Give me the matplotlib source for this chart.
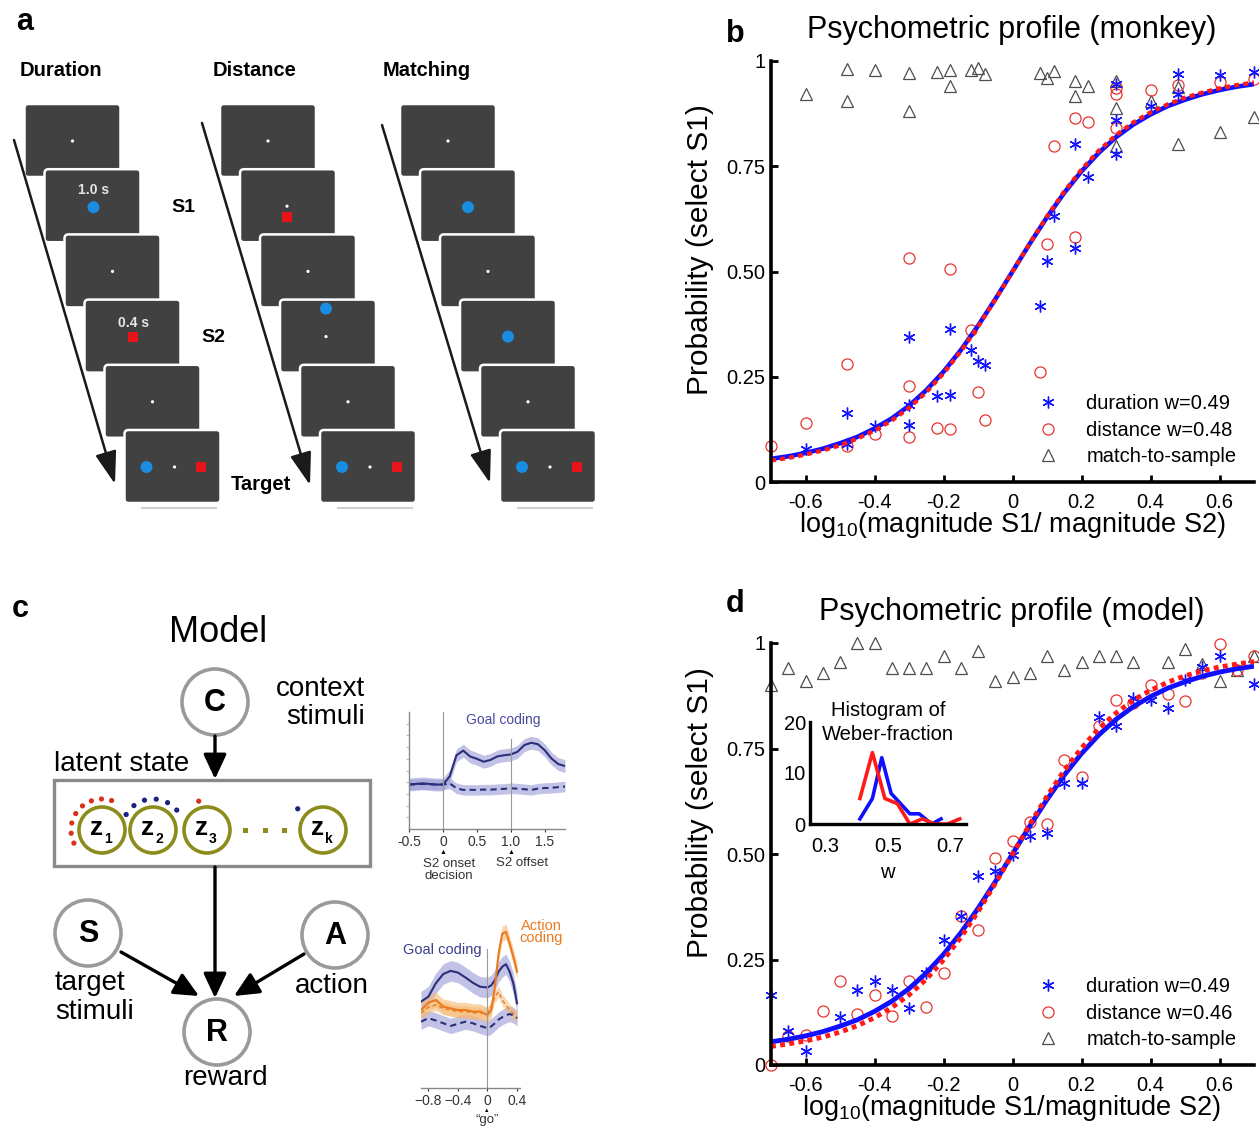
import matplotlib
matplotlib.use("Agg")
import matplotlib.pyplot as plt
from matplotlib.patches import FancyBboxPatch, Circle, Rectangle
from matplotlib.lines import Line2D
import numpy as np

plt.rcParams['font.family'] = ['Liberation Sans', 'DejaVu Sans']
plt.rcParams['mathtext.fontset'] = 'custom'
plt.rcParams['mathtext.rm'] = 'Liberation Sans'
plt.rcParams['mathtext.it'] = 'Liberation Sans:italic'
plt.rcParams['mathtext.bf'] = 'Liberation Sans:bold'

W, H = 1259, 1133

# -----------------------------
# DATA: panel b (monkey)
# -----------------------------
b_dur_x = [0.30, 0.30, 0.30, 0.48, 0.48, 0.40, 0.60, 0.70, 0.18, 0.22, 0.12, 0.18, 0.10, 0.08,
           -0.18, -0.30, -0.12, -0.10, -0.08, -0.22, -0.18, -0.30, -0.30, -0.48, -0.40, -0.48, -0.60]
b_dur_y = [0.946, 0.859, 0.779, 0.970, 0.921, 0.894, 0.966, 0.974, 0.802, 0.724, 0.631, 0.556, 0.524, 0.417,
           0.363, 0.345, 0.313, 0.288, 0.278, 0.204, 0.206, 0.183, 0.135, 0.163, 0.133, 0.090, 0.079]

b_dist_x = [0.30, 0.30, 0.40, 0.48, 0.60, 0.70, 0.18, 0.22, 0.30, 0.12, 0.18, 0.10, -0.30, -0.18,
            -0.12, 0.08, -0.48, -0.30, -0.10, -0.08, -0.60, -0.22, -0.18, -0.40, -0.30, -0.48, -0.70]
b_dist_y = [0.936, 0.921, 0.932, 0.944, 0.950, 0.958, 0.865, 0.855, 0.841, 0.797, 0.582, 0.565, 0.533, 0.505,
            0.361, 0.262, 0.280, 0.228, 0.214, 0.147, 0.141, 0.129, 0.125, 0.113, 0.107, 0.086, 0.086]

b_match_x = [-0.60, -0.48, -0.48, -0.40, -0.30, -0.30, -0.22, -0.18, -0.18, -0.12, -0.10, -0.08, 0.08,
             0.10, 0.12, 0.18, 0.18, 0.22, 0.30, 0.30, 0.30, 0.40, 0.48, 0.48, 0.60, 0.70]
b_match_y = [0.922, 0.982, 0.906, 0.979, 0.972, 0.881, 0.974, 0.978, 0.940, 0.979, 0.984, 0.970, 0.971,
             0.960, 0.976, 0.952, 0.918, 0.940, 0.952, 0.888, 0.797, 0.906, 0.938, 0.803, 0.831, 0.868]

# fitted psychometric curves
fit_x = [-0.70, -0.65, -0.60, -0.55, -0.50, -0.45, -0.40, -0.35, -0.30, -0.25, -0.20, -0.15, -0.10, -0.05, 0.0,
         0.05, 0.10, 0.15, 0.20, 0.25, 0.30, 0.35, 0.40, 0.45, 0.50, 0.55, 0.60, 0.65, 0.70]
fit_w049 = [0.055, 0.061, 0.069, 0.079, 0.092, 0.107, 0.127, 0.151, 0.181, 0.218, 0.262, 0.313, 0.371, 0.434, 0.5,
            0.566, 0.629, 0.687, 0.738, 0.782, 0.819, 0.849, 0.873, 0.893, 0.908, 0.921, 0.931, 0.939, 0.945]
fit_w048 = [0.051, 0.057, 0.065, 0.075, 0.087, 0.103, 0.122, 0.146, 0.176, 0.213, 0.258, 0.310, 0.369, 0.433, 0.5,
            0.567, 0.631, 0.690, 0.742, 0.787, 0.824, 0.854, 0.878, 0.897, 0.913, 0.925, 0.935, 0.943, 0.949]
fit_w046 = [0.044, 0.050, 0.057, 0.066, 0.078, 0.093, 0.112, 0.136, 0.166, 0.203, 0.249, 0.302, 0.363, 0.430, 0.5,
            0.570, 0.637, 0.698, 0.751, 0.797, 0.834, 0.864, 0.888, 0.907, 0.922, 0.934, 0.943, 0.950, 0.956]

# -----------------------------
# DATA: panel d (model)
# -----------------------------
d_dur_x = [0.60, 0.70, 0.55, 0.50, 0.45, 0.40, 0.35, 0.25, 0.30, 0.15, 0.20, 0.10, 0.05, 0.0,
           -0.05, -0.10, -0.15, -0.20, -0.25, -0.30, -0.35, -0.40, -0.45, -0.50, -0.65, -0.60, -0.70]
d_dur_y = [0.969, 0.902, 0.943, 0.912, 0.847, 0.866, 0.869, 0.825, 0.803, 0.668, 0.668, 0.550, 0.542, 0.498,
           0.460, 0.449, 0.352, 0.296, 0.218, 0.135, 0.178, 0.199, 0.178, 0.113, 0.081, 0.033, 0.165]

d_dist_x = [0.60, 0.70, 0.65, 0.55, 0.50, 0.45, 0.40, 0.35, 0.30, 0.25, 0.15, 0.20, 0.10, 0.05, 0.0,
            -0.05, -0.15, -0.10, -0.20, -0.25, -0.30, -0.35, -0.40, -0.45, -0.50, -0.55, -0.60, -0.65, -0.70]
d_dist_y = [0.998, 0.969, 0.935, 0.928, 0.863, 0.880, 0.900, 0.857, 0.866, 0.803, 0.723, 0.683, 0.572, 0.576, 0.530,
            0.491, 0.352, 0.320, 0.217, 0.137, 0.199, 0.117, 0.165, 0.121, 0.199, 0.129, 0.072, 0.069, 0.0]

d_match_x = [-0.70, -0.65, -0.60, -0.55, -0.50, -0.45, -0.40, -0.35, -0.30, -0.25, -0.20, -0.15, -0.10, -0.05,
             0.0, 0.05, 0.10, 0.15, 0.20, 0.25, 0.30, 0.35, 0.45, 0.50, 0.55, 0.60, 0.65, 0.70]
d_match_y = [0.90, 0.94, 0.91, 0.93, 0.955, 1.0, 1.0, 0.94, 0.94, 0.94, 0.97, 0.94, 0.98, 0.91,
             0.92, 0.93, 0.97, 0.935, 0.955, 0.97, 0.97, 0.955, 0.955, 0.985, 0.95, 0.91, 0.935, 0.97]

# inset: histogram of Weber fraction
hist_red_x = [0.41, 0.45, 0.49, 0.53, 0.57, 0.61, 0.65, 0.69, 0.73]
hist_red_y = [5, 14, 5, 4, 0, 1, 0, 0, 1]
hist_blue_x = [0.41, 0.45, 0.48, 0.51, 0.54, 0.57, 0.60, 0.64, 0.67]
hist_blue_y = [1, 5, 13, 6, 4, 2, 2, 0, 1]

xtick_vals = [-0.6, -0.4, -0.2, 0, 0.2, 0.4, 0.6]
xtick_labels = ["-0.6", "-0.4", "-0.2", "0", "0.2", "0.4", "0.6"]
ytick_vals = [0, 0.25, 0.5, 0.75, 1]
ytick_labels = ["0", "0.25", "0.50", "0.75", "1"]

# -----------------------------
# DATA: panel c small neural traces
# -----------------------------
gc1_x = [-0.5, -0.3, -0.1, 0.0, 0.1, 0.2, 0.3, 0.4, 0.5, 0.6, 0.7, 0.8, 0.9, 1.0, 1.1, 1.2, 1.3, 1.4, 1.5, 1.6, 1.7, 1.8]
gc1_solid = [0.38, 0.39, 0.38, 0.38, 0.45, 0.63, 0.67, 0.62, 0.60, 0.575, 0.59, 0.62, 0.63, 0.637, 0.66, 0.717,
             0.737, 0.725, 0.674, 0.603, 0.555, 0.538]
gc1_dash = [0.38, 0.385, 0.38, 0.38, 0.39, 0.348, 0.334, 0.335, 0.334, 0.337, 0.336, 0.34, 0.343, 0.348, 0.345,
            0.34, 0.334, 0.345, 0.35, 0.352, 0.358, 0.363]

gc2_x = [-0.9, -0.8, -0.7, -0.6, -0.5, -0.4, -0.3, -0.2, -0.1, 0.0, 0.05, 0.1, 0.15, 0.2, 0.25, 0.3, 0.35, 0.4]
goal_solid = [0.505, 0.534, 0.612, 0.666, 0.685, 0.675, 0.647, 0.616, 0.592, 0.588, 0.600, 0.631, 0.680, 0.709,
              0.724, 0.68, 0.612, 0.495]
goal_dash = [0.388, 0.408, 0.395, 0.379, 0.363, 0.375, 0.388, 0.379, 0.363, 0.35, 0.36, 0.379, 0.40, 0.414,
             0.425, 0.433, 0.425, 0.408]
action_solid = [0.456, 0.499, 0.515, 0.476, 0.466, 0.456, 0.456, 0.447, 0.447, 0.427, 0.456, 0.592, 0.786, 0.903,
                0.913, 0.845, 0.767, 0.68]
action_dash = [0.437, 0.472, 0.486, 0.466, 0.456, 0.447, 0.447, 0.44, 0.44, 0.437, 0.47, 0.534, 0.563, 0.514,
               0.485, 0.456, 0.437, 0.417]


def px_rect(l, t, r, b):
    return [l / W, 1 - b / H, (r - l) / W, (b - t) / H]


fig = plt.figure(figsize=(W / 100, H / 100), dpi=100)

# overlay in pixel coordinates for the schematics and texts
ov = fig.add_axes([0, 0, 1, 1])
ov.set_xlim(0, W)
ov.set_ylim(H, 0)
ov.axis("off")
ov.set_zorder(0)

BLUE_DOT = "#1a8de0"
RED_SQ = "#e8141c"

# =========================================================
# PANEL a : task schematics
# =========================================================
columns = [
    ("Duration", 20, 24.5, [[("dot", 48, 37)],
                            [("text", 49, 21, "1.0 s"), ("blue", 49, 38)],
                            [("dot", 48, 37)],
                            [("text", 49, 23, "0.4 s"), ("red", 49, 37)],
                            [("dot", 48, 37)],
                            [("blue", 22, 37), ("dot", 50, 37), ("red", 77, 37)]]),
    ("Distance", 213, 220, [[("dot", 48, 37)],
                            [("dot", 47, 37), ("red", 47, 48)],
                            [("dot", 48, 37)],
                            [("blue", 46, 9), ("dot", 46, 37)],
                            [("dot", 48, 37)],
                            [("blue", 22, 37), ("dot", 50, 37), ("red", 77, 37)]]),
    ("Matching", 383, 400, [[("dot", 48, 37)],
                            [("blue", 48, 38)],
                            [("dot", 48, 37)],
                            [("blue", 48, 37)],
                            [("dot", 48, 37)],
                            [("blue", 22, 37), ("dot", 50, 37), ("red", 77, 37)]]),
]
scr_w, scr_h, step_x, step_y, top0 = 96, 73, 20, 65.2, 104

for name, lx, x0, screens in columns:
    ov.text(lx, 71, name, fontsize=14.5, fontweight="bold", ha="left", va="center")
    for i, items in enumerate(screens):
        sx = x0 + step_x * i
        sy = top0 + step_y * i
        ov.add_patch(FancyBboxPatch((sx, sy), scr_w, scr_h, boxstyle="round,pad=0,rounding_size=4",
                                    fc="#414141", ec="white", lw=1.8, zorder=2 + i))
        for it in items:
            kind = it[0]
            cx, cy = sx + it[1], sy + it[2]
            if kind == "dot":
                ov.add_patch(Circle((cx, cy), 1.6, fc="white", ec="none", zorder=2 + i))
            elif kind == "blue":
                ov.add_patch(Circle((cx, cy), 6, fc=BLUE_DOT, ec="none", zorder=2 + i))
            elif kind == "red":
                ov.add_patch(Rectangle((cx - 5, cy - 5), 10, 10, fc=RED_SQ, ec="none", zorder=2 + i))
            elif kind == "text":
                ov.text(cx, cy, it[3], color="#e6e6e6", fontsize=10, fontweight="bold",
                        ha="center", va="center", zorder=2 + i)
    # faint base line under the last screen
    ov.plot([x0 + step_x * 5 + 18, x0 + step_x * 5 + 92], [top0 + step_y * 5 + 78] * 2,
            color="#d0d0d0", lw=1.5, zorder=1)

arrow_a = [((14, 140), (115, 484)), ((202, 123), (310, 485)), ((382, 125), (490, 483))]
for (x1, y1), (x2, y2) in arrow_a:
    ov.annotate("", xy=(x2, y2), xytext=(x1, y1),
                arrowprops=dict(arrowstyle="-|>,head_length=1.0,head_width=0.33", lw=1.8,
                                color="#1a1a1a", mutation_scale=20, shrinkA=0, shrinkB=0), zorder=20)

ov.text(183, 208, "S1", fontsize=14, fontweight="bold", ha="center", va="center")
ov.text(213, 338, "S2", fontsize=14, fontweight="bold", ha="center", va="center")
ov.text(261, 485, "Target", fontsize=14.5, fontweight="bold", ha="center", va="center")

# =========================================================
# PANEL c : model diagram
# =========================================================
ov.text(218, 633, "Model", fontsize=26, ha="center", va="center")

GRAY_EDGE = "#9a9a9a"
node_r = 33
for (cx, cy, letter) in [(215, 702, "C"), (88, 933, "S"), (335, 935, "A"), (217, 1032, "R")]:
    ov.add_patch(Circle((cx, cy), node_r, fc="white", ec=GRAY_EDGE, lw=2.6, zorder=3))
    ov.text(cx, cy + 1, letter, fontsize=22, fontweight="bold", ha="center", va="center", zorder=4)

ov.text(365, 689, "context", fontsize=20, ha="right", va="center")
ov.text(365, 717, "stimuli", fontsize=20, ha="right", va="center")
ov.text(54, 764, "latent state", fontsize=20, ha="left", va="center")
ov.text(55, 983, "target", fontsize=20, ha="left", va="center")
ov.text(55, 1012, "stimuli", fontsize=20, ha="left", va="center")
ov.text(332, 986, "action", fontsize=20, ha="center", va="center")
ov.text(225, 1078, "reward", fontsize=20, ha="center", va="center")

ov.add_patch(Rectangle((54, 780), 316, 86, fc="none", ec="#8a8a8a", lw=2.4, zorder=2))

OLIVE = "#8c8c1c"
z_nodes = [(102, 830, "1"), (153, 830, "2"), (207, 830, "3"), (323, 830, "k")]
for cx, cy, sub in z_nodes:
    ov.add_patch(Circle((cx, cy), 23, fc="white", ec=OLIVE, lw=2.6, zorder=3))
    ov.text(cx - 5, cy - 2, "z", fontsize=19, fontweight="bold", ha="center", va="center", zorder=4)
    ov.text(cx + 6, cy + 9, sub, fontsize=10, fontweight="bold", ha="center", va="center", zorder=4)
for k in range(3):
    ov.add_patch(Rectangle((246 + 19.5 * k - 2.5, 827.5), 5, 5, fc=OLIVE, ec="none", zorder=3))

# cluster assignment dots around the latent states
dot_arcs = [(102, 830, 31, 205, 72, 8, "#d8321e"),
            (153, 830, 31, 150, 40, 6, "#1a237e"),
            (207, 830, 30, 106, 106, 1, "#d8321e"),
            (323, 830, 33, 140, 140, 1, "#1a237e")]
for cx, cy, r, a0, a1, n, col in dot_arcs:
    for ang in np.linspace(a0, a1, n):
        t = np.deg2rad(ang)
        ov.add_patch(Circle((cx + r * np.cos(t), cy - r * np.sin(t)), 2.6, fc=col, ec="none", zorder=3))

arrow_c = [((215, 736), (215, 779)), ((215, 867), (215, 998)), ((121, 952), (199, 996)), ((304, 954), (234, 996))]
for (x1, y1), (x2, y2) in arrow_c:
    ov.annotate("", xy=(x2, y2), xytext=(x1, y1),
                arrowprops=dict(arrowstyle="-|>,head_length=0.75,head_width=0.35", lw=2.4,
                                color="black", mutation_scale=20, shrinkA=0, shrinkB=0), zorder=5)

NAVY = "#2b2f7a"
NAVY_BAND = "#9a9ad6"
ORANGE = "#ea7a1e"
ORANGE_BAND = "#f7b870"

# small trace 1
g1 = fig.add_axes(px_rect(409, 712, 565, 829))
g1.fill_between(gc1_x, np.array(gc1_solid) - 0.055, np.array(gc1_solid) + 0.055, color=NAVY_BAND, alpha=0.6, lw=0)
g1.fill_between(gc1_x, np.array(gc1_dash) - 0.045, np.array(gc1_dash) + 0.045, color=NAVY_BAND, alpha=0.6, lw=0)
g1.plot(gc1_x, gc1_solid, color=NAVY, lw=1.5)
g1.plot(gc1_x, gc1_dash, color=NAVY, lw=1.5, ls=(0, (3, 2)))
g1.axvline(0, color="#999999", lw=0.8)
g1.axvline(1.0, ymax=0.77, color="#999999", lw=0.8)
g1.set_xlim(-0.5, 1.8)
g1.set_ylim(0, 1)
g1.set_xticks([-0.5, 0, 0.5, 1.0, 1.5])
g1.set_xticklabels(["-0.5", "0", "0.5", "1.0", "1.5"])
g1.set_yticks([0.1, 0.2, 0.3, 0.4, 0.5, 0.6, 0.7, 0.8, 0.9])
g1.set_yticklabels([])
for s in ["top", "right"]:
    g1.spines[s].set_visible(False)
for s in ["left", "bottom"]:
    g1.spines[s].set_color("#888888")
    g1.spines[s].set_linewidth(1)
g1.tick_params(axis="x", length=2, labelsize=10, colors="#333333", pad=2)
g1.tick_params(axis="y", length=2, color="#bbbbbb")
g1.patch.set_alpha(0)
ov.text(503, 720, "Goal coding", color="#4a4a9e", fontsize=10, ha="center", va="center")
ov.text(443, 852, "\u25b2", fontsize=5, ha="center", va="center")
ov.text(511, 852, "\u25b2", fontsize=5, ha="center", va="center")
ov.text(449, 870, "S2 onset\ndecision", fontsize=9.5, ha="center", va="center", color="#333333", linespacing=0.95)
ov.text(522, 863, "S2 offset", fontsize=9.5, ha="center", va="center", color="#333333")

# small trace 2
g2 = fig.add_axes(px_rect(421, 917, 520, 1088))
g2.fill_between(gc2_x, np.array(goal_solid) - 0.06, np.array(goal_solid) + 0.06, color=NAVY_BAND, alpha=0.6, lw=0)
g2.fill_between(gc2_x, np.array(goal_dash) - 0.045, np.array(goal_dash) + 0.045, color=NAVY_BAND, alpha=0.6, lw=0)
g2.fill_between(gc2_x, np.array(action_solid) - 0.045, np.array(action_solid) + 0.045, color=ORANGE_BAND, alpha=0.6, lw=0)
g2.fill_between(gc2_x, np.array(action_dash) - 0.035, np.array(action_dash) + 0.035, color=ORANGE_BAND, alpha=0.5, lw=0)
g2.plot(gc2_x, goal_solid, color=NAVY, lw=1.5)
g2.plot(gc2_x, goal_dash, color=NAVY, lw=1.5, ls=(0, (3, 2)))
g2.plot(gc2_x, action_solid, color=ORANGE, lw=1.5)
g2.plot(gc2_x, action_dash, color=ORANGE, lw=1.0, ls=(0, (3, 2)))
g2.axvline(0, ymax=0.81, color="#999999", lw=0.8)
g2.set_xlim(-0.9, 0.44)
g2.set_ylim(0, 1)
g2.set_xticks([-0.8, -0.4, 0, 0.4])
g2.set_xticklabels(["\u22120.8", "\u22120.4", "0", "0.4"])
g2.set_yticks([])
for s in ["top", "right", "left"]:
    g2.spines[s].set_visible(False)
g2.spines["bottom"].set_color("#888888")
g2.spines["bottom"].set_linewidth(1)
g2.tick_params(axis="x", length=2, labelsize=10, colors="#333333", pad=2)
g2.patch.set_alpha(0)
ov.text(442, 950, "Goal coding", color="#3a3f8a", fontsize=10.5, ha="center", va="center")
ov.text(541, 932, "Action\ncoding", color=ORANGE, fontsize=10.5, ha="center", va="center", linespacing=0.85)
ov.text(487, 1110, "\u25b2", fontsize=4, ha="center", va="center")
ov.text(487, 1120, "\u201cgo\u201d", fontsize=9.5, ha="center", va="center", color="#333333")

# =========================================================
# PANELS b and d : psychometric profiles
# =========================================================
star = (6, 2, 0)


def style_psych(ax):
    ax.set_xlim(-0.7, 0.7)
    ax.set_ylim(0, 1)
    for s in ["top", "right"]:
        ax.spines[s].set_visible(False)
    for s in ["left", "bottom"]:
        ax.spines[s].set_linewidth(2.6)
    ax.set_xticks(xtick_vals)
    ax.set_xticklabels(xtick_labels)
    ax.set_yticks(ytick_vals)
    ax.set_yticklabels(ytick_labels)
    ax.tick_params(direction="in", length=5, width=2, labelsize=14.5)
    ax.tick_params(axis="x", pad=8)
    ax.tick_params(axis="y", pad=4)
    ax.patch.set_alpha(0)


def draw_points(ax, dur_x, dur_y, dist_x, dist_y, m_x, m_y):
    ax.plot(m_x, m_y, ls="none", marker="^", ms=8.5, mfc="none", mec="#4d4d4d", mew=0.9, clip_on=False)
    ax.plot(dist_x, dist_y, ls="none", marker="o", ms=8, mfc="none", mec="#e8332e", mew=0.9, clip_on=False)
    ax.plot(dur_x, dur_y, ls="none", marker=star, ms=8.5, color="#1414ff", mew=1.0, clip_on=False)


def add_legend(ax, labels):
    handles = [Line2D([], [], ls="none", marker=star, ms=8.5, color="#1414ff", mew=1.0),
               Line2D([], [], ls="none", marker="o", ms=8, mfc="none", mec="#e8332e", mew=0.9),
               Line2D([], [], ls="none", marker="^", ms=8.5, mfc="none", mec="#4d4d4d", mew=0.9)]
    ax.legend(handles, labels, loc="center left", bbox_to_anchor=(0.553, 0.123), frameon=False,
              fontsize=14.5, handlelength=1.0, handletextpad=1.4, labelspacing=0.38,
              borderpad=0, borderaxespad=0)


axb = fig.add_axes(px_rect(771, 61, 1254, 482))
axb.set_zorder(2)
style_psych(axb)
draw_points(axb, b_dur_x, b_dur_y, b_dist_x, b_dist_y, b_match_x, b_match_y)
axb.plot(fit_x, fit_w049, color="#1010ff", lw=3.3, solid_capstyle="butt")
axb.plot(fit_x, fit_w048, color="#ff1a1a", lw=3.0, ls=(0, (1.2, 1.0)))
add_legend(axb, ["duration w=0.49", "distance w=0.48", "match-to-sample"])

axd = fig.add_axes(px_rect(771, 643, 1254, 1065))
axd.set_zorder(2)
style_psych(axd)
draw_points(axd, d_dur_x, d_dur_y, d_dist_x, d_dist_y, d_match_x, d_match_y)
axd.plot(fit_x, fit_w049, color="#1010ff", lw=3.5, solid_capstyle="butt")
axd.plot(fit_x, fit_w046, color="#ff1a1a", lw=3.5, ls=(0, (1.0, 0.9)))
add_legend(axd, ["duration w=0.49", "distance w=0.46", "match-to-sample"])

# inset histogram
axi = fig.add_axes(px_rect(810, 722, 966, 824))
axi.set_zorder(3)
axi.plot(hist_blue_x, hist_blue_y, color="#1010ff", lw=2.6)
axi.plot(hist_red_x, hist_red_y, color="#ff1a1a", lw=2.6)
axi.set_xlim(0.25, 0.75)
axi.set_ylim(0, 20)
axi.set_xticks([0.3, 0.5, 0.7])
axi.set_xticklabels(["0.3", "0.5", "0.7"])
axi.set_yticks([0, 10, 20])
axi.set_yticklabels(["0", "10", "20"])
for s in ["top", "right"]:
    axi.spines[s].set_visible(False)
for s in ["left", "bottom"]:
    axi.spines[s].set_linewidth(2.4)
axi.tick_params(direction="in", length=0, labelsize=14.5)
axi.tick_params(axis="x", pad=9)
axi.tick_params(axis="y", pad=3)
axi.patch.set_alpha(0)
ov.text(888, 710, "Histogram of", fontsize=14.5, ha="center", va="center")
ov.text(888, 735, "Weber-fraction", fontsize=14.5, ha="center", va="center")
ov.text(887, 872, "w", fontsize=14.5, ha="center", va="center")

# titles and axis labels
ov.text(1012, 30, "Psychometric profile (monkey)", fontsize=22, ha="center", va="center")
ov.text(1012, 612, "Psychometric profile (model)", fontsize=22, ha="center", va="center")
ov.text(700, 250, "Probability (select S1)", fontsize=21.5, rotation=90, ha="center", va="center")
ov.text(700, 813, "Probability (select S1)", fontsize=21.5, rotation=90, ha="center", va="center")
ov.text(1012, 525, r"log$_\mathregular{10}$(magnitude S1/ magnitude S2)", fontsize=19.5, ha="center", va="center")
ov.text(1012, 1108, r"log$_\mathregular{10}$(magnitude S1/magnitude S2)", fontsize=19.5, ha="center", va="center")

# panel letters
for letter, x, y in [("a", 16, 30), ("b", 726, 42), ("c", 12, 617), ("d", 726, 612)]:
    ov.text(x, y, letter, fontsize=22, fontweight="bold", ha="left", va="baseline")

fig.savefig("out.png", dpi=100)
